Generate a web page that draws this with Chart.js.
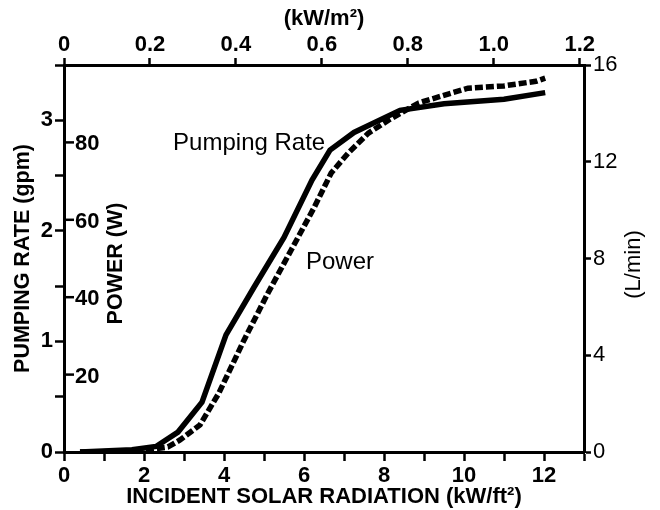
<!DOCTYPE html>
<html>
<head>
<meta charset="utf-8">
<script src="https://cdn.jsdelivr.net/npm/chart.js@4"></script>
<style>
  body { margin: 0; background: #fff; }
</style>
</head>
<body>
<canvas id="pumpChart" width="660" height="510"></canvas>
<script>
// Pumping rate (gpm) vs radiation
const pumpRadiation = [0.4, 1.7, 2.3, 2.85, 3.45, 4.05, 4.75, 5.5, 6.2, 6.65, 7.25, 8.4, 9.5, 11, 12.03];
const pumpRate = [0, 0.02, 0.05, 0.18, 0.45, 1.06, 1.49, 1.94, 2.46, 2.73, 2.89, 3.09, 3.15, 3.19, 3.25];

// Power (W) vs radiation
const powerRadiation = [0.4, 1.8, 2.6, 2.9, 3.4, 3.87, 4.5, 5.1, 5.68, 6.26, 6.68, 7.11, 7.61, 8.12, 8.87, 9.7, 10.1, 11, 11.8, 12.03];
const powerWatts = [0, 0.2, 1.3, 3.1, 7, 15.2, 28.9, 41.1, 52.2, 63.3, 72.1, 77.3, 82.4, 85.8, 90.2, 92.8, 94, 94.6, 95.8, 96.6];

// axis ticks
const radiationTicks = [0, 1, 2, 3, 4, 5, 6, 7, 8, 9, 10, 11, 12, 13];
const kwm2Ticks = [0, 0.2, 0.4, 0.6, 0.8, 1.0, 1.2];
const gpmTicks = [0, 0.5, 1, 1.5, 2, 2.5, 3, 3.5];
const wattTicks = [20, 40, 60, 80];
const litreTicks = [0, 4, 8, 12, 16];

const FAMILY = "'Liberation Sans', Arial, sans-serif";
const tickFont = { family: FAMILY, size: 22, weight: 'bold' };
const titleFont = { family: FAMILY, size: 21.5, weight: 'bold' };

function axisStyle(list, fmt, size) {
  return {
    type: 'linear',
    min: list[0],
    afterBuildTicks: s => { s.ticks = list.map(v => ({ value: v })); },
    afterFit: size,
    ticks: { font: tickFont, color: '#000', padding: 2, autoSkip: false, maxRotation: 0, callback: fmt },
    grid: { drawOnChartArea: false, drawTicks: true, tickLength: 9, tickWidth: 2.5, tickColor: '#000' },
    border: { display: true, color: '#000', width: 3 }
  };
}

// power axis, right axis title and curve labels
const extras = {
  id: 'extras',
  afterDraw(chart) {
    const ctx = chart.ctx;
    const area = chart.chartArea;
    const yW = chart.scales.yW;
    ctx.save();
    ctx.fillStyle = '#000';
    ctx.strokeStyle = '#000';
    ctx.lineWidth = 2.5;
    ctx.font = 'bold 22px ' + FAMILY;
    ctx.textAlign = 'left';
    ctx.textBaseline = 'middle';
    wattTicks.forEach(v => {
      const y = yW.getPixelForValue(v);
      ctx.beginPath();
      ctx.moveTo(area.left, y);
      ctx.lineTo(area.left + 10, y);
      ctx.stroke();
      ctx.fillText(String(v), area.left + 11, y + 2);
    });

    const midY = (area.top + area.bottom) / 2;
    ctx.textAlign = 'center';
    ctx.font = 'bold 21.5px ' + FAMILY;
    ctx.save();
    ctx.translate(116, midY + 5);
    ctx.rotate(-Math.PI / 2);
    ctx.fillText('POWER (W)', 0, 0);
    ctx.restore();

    ctx.save();
    ctx.translate(634, midY + 6);
    ctx.rotate(-Math.PI / 2);
    ctx.font = '22px ' + FAMILY;
    ctx.fillText('(L/min)', 0, 0);
    ctx.restore();

    const x = chart.scales.x;
    ctx.font = '24px ' + FAMILY;
    ctx.textAlign = 'right';
    ctx.fillText('Pumping Rate', x.getPixelForValue(6.53), chart.scales.y.getPixelForValue(2.79));
    ctx.textAlign = 'left';
    ctx.fillText('Power', x.getPixelForValue(6.05), yW.getPixelForValue(49));
    ctx.restore();
  }
};

const xAxis = axisStyle(radiationTicks, v => (v % 2 === 0 ? String(v) : ''), s => { s.height = 58; });
xAxis.position = 'bottom';
xAxis.max = 13;
xAxis.title = { display: true, text: 'INCIDENT SOLAR RADIATION (kW/ft²)', font: { family: FAMILY, size: 22, weight: 'bold' }, color: '#000', padding: { top: 0, bottom: 0 } };

const topAxis = axisStyle(kwm2Ticks, v => (v === 0 ? '0' : v.toFixed(1)), s => { s.height = 65; });
topAxis.position = 'top';
topAxis.max = 1.21;
topAxis.grid.tickLength = 7;
topAxis.ticks.padding = 0;
topAxis.title = { display: true, text: '(kW/m²)', font: { family: FAMILY, size: 22, weight: 'bold' }, color: '#000', padding: { top: 6, bottom: 0 } };

const gpmAxis = axisStyle(gpmTicks, v => (Number.isInteger(v) ? String(v) : ''), s => { s.width = 64; });
gpmAxis.position = 'left';
gpmAxis.max = 3.5;
gpmAxis.title = { display: true, text: 'PUMPING RATE (gpm)', font: titleFont, color: '#000', padding: { top: 10, bottom: 0 } };

const litreAxis = axisStyle(litreTicks, v => String(v), s => { s.width = 76; });
litreAxis.position = 'right';
litreAxis.max = 16;
litreAxis.grid.tickLength = 7;
litreAxis.ticks.font = { family: FAMILY, size: 22 };

new Chart(document.getElementById('pumpChart'), {
  type: 'line',
  data: {
    datasets: [{
      label: 'Pumping Rate',
      data: pumpRadiation.map((x, i) => ({ x: x, y: pumpRate[i] })),
      xAxisID: 'x',
      yAxisID: 'y',
      borderColor: '#000',
      borderWidth: 5.5,
      pointRadius: 0,
      tension: 0,
      fill: false
    }, {
      label: 'Power',
      data: powerRadiation.map((x, i) => ({ x: x, y: powerWatts[i] })),
      xAxisID: 'x',
      yAxisID: 'yW',
      borderColor: '#000',
      borderWidth: 5.5,
      borderDash: [8, 3],
      pointRadius: 0,
      tension: 0,
      fill: false
    }]
  },
  options: {
    responsive: false,
    animation: false,
    devicePixelRatio: 1,
    layout: { padding: 0 },
    plugins: {
      legend: { display: false },
      tooltip: { enabled: false }
    },
    scales: {
      x: xAxis,
      x2: topAxis,
      y: gpmAxis,
      yW: { type: 'linear', position: 'left', display: false, min: 0, max: 100 },
      yL: litreAxis
    }
  },
  plugins: [extras]
});
</script>
</body>
</html>
